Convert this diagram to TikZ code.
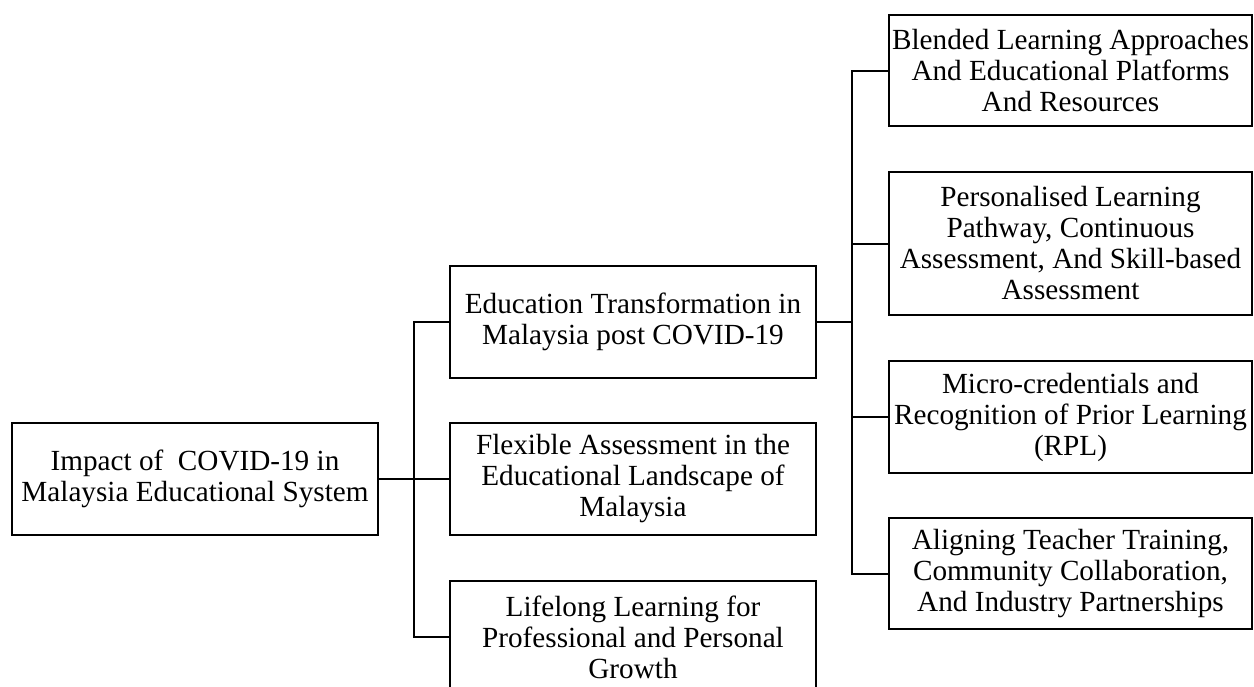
\documentclass[tikz,border=0pt]{standalone}
\usepackage{fontspec}
\setmainfont{Liberation Serif}
\usetikzlibrary{calc}
\tikzstyle{box} = [draw, line width=0.8pt, align=center, inner sep=0pt, font=\fontsize{14.6}{15.5}\selectfont]
\tikzstyle{midbox} = [box, minimum width=183pt, minimum height=56pt]
\tikzstyle{sidebox} = [box, minimum width=181.5pt, minimum height=55.5pt]
\tikzstyle{link} = [line width=1pt]

\begin{document}
\begin{tikzpicture}[x=0.5pt, y=-0.5pt]
			\useasboundingbox (0, 0) rectangle (1254, 686);
			\node[midbox](root) at (195, 479){Impact of~ COVID-19 in\\Malaysia Educational System};
			
			\node[midbox](edu) at (633, 322){Education Transformation in\\Malaysia post COVID-19};
			\node[midbox](flex) at (633, 479){Flexible Assessment in the\\Educational Landscape of\\Malaysia};
			\node[midbox](life) at (633, 637){Lifelong Learning for\\Professional and Personal\\Growth};
			
			\node[sidebox](blend) at (1070.5, 70.5){Blended Learning Approaches\\And Educational Platforms\\And Resources};
			\node[sidebox, minimum height=71.5pt](pers) at (1070.5, 243.5){Personalised Learning\\Pathway, Continuous\\Assessment, And Skill-based\\Assessment};
			\node[sidebox, minimum height=56pt](micro) at (1070.5, 417){Micro-credentials and\\Recognition of Prior Learning\\(RPL)};
			\node[sidebox](align) at (1070.5, 573.5){Aligning Teacher Training,\\Community Collaboration,\\And Industry Partnerships};
			
			\coordinate(lowleft) at (414, 637);
			\coordinate(lowright) at (852, 573.5);
			
			\draw[link](edu.west) -| (lowleft) -- (life.west);
			\draw[line width=1.4pt](root.east) -- (root.east -| lowleft);
			\draw[link](root.east -| lowleft) -- (flex.west);
			
			\draw[link](blend.west) -| (lowright) -- (align.west);
			\draw[link](pers.west) -- (pers.west -| lowright);
			\draw[link](micro.west) -- (micro.west -| lowright);
			\draw[line width=1.4pt](edu.east) -- (edu.east -| lowright);
		\end{tikzpicture}
\end{document}
